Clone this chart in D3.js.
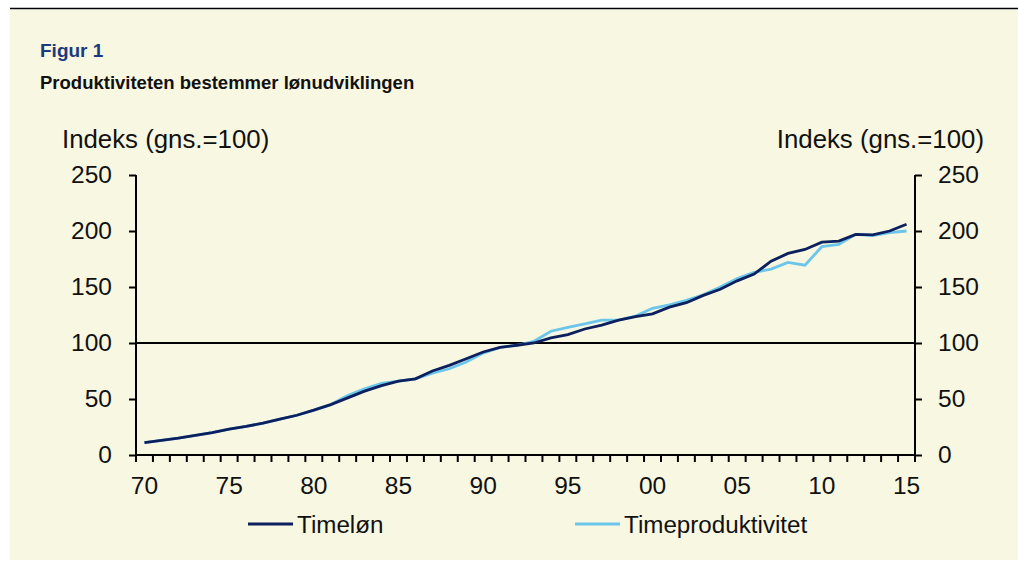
<!DOCTYPE html>
<html>
<head>
<meta charset="utf-8">
<script src="https://cdn.jsdelivr.net/npm/d3@7"></script>
<style>
  body { margin: 0; background: #fff; }
  svg { display: block; font-family: "Liberation Sans", Arial, sans-serif; }
</style>
</head>
<body>
<svg id="chart" width="1018" height="569"></svg>
<script>
// years 1970-2015
const years = d3.range(1970, 2016);
const tickLabels = ["70", "75", "80", "85", "90", "95", "00", "05", "10", "15"];
const yTicks = [0, 50, 100, 150, 200, 250];

const timeloen = [
  11, 13, 15, 17.5, 20, 23, 25.5, 28.5, 32, 35.5,
  40, 45, 51, 57, 62, 66, 68, 75, 80, 86,
  92, 96, 98, 100, 104.5, 107.5, 112.5, 116, 120.5, 123.5,
  126, 132, 136, 142.5, 148, 155.5, 161.5, 173, 180, 183.5,
  190, 191, 197, 196.5, 200, 206
];
const timeprod = [
  11, 13, 15, 17.5, 20, 23, 25.5, 28.5, 32, 35.5,
  40, 45, 53, 59, 64, 66, 68, 73, 77, 83,
  91, 96, 98, 101.5, 110.5, 114, 117, 120.5, 120.5, 124,
  131, 134, 138, 143, 150, 157.5, 163, 166, 172, 169.5,
  186, 188, 197, 196, 198.5, 200
];

const svg = d3.select('#chart');

// top rule and background panel
svg.append('rect').attr('x', 10).attr('y', 10).attr('width', 1008).attr('height', 550).attr('fill', '#f8f7e1');
svg.append('line').attr('x1', 10).attr('x2', 1018).attr('y1', 8.5).attr('y2', 8.5).attr('stroke', '#000').attr('stroke-width', 1.5);

svg.append('text').attr('x', 40).attr('y', 57).text('Figur 1')
  .attr('font-size', 19).attr('font-weight', 'bold').attr('fill', '#1b3a7c');
svg.append('text').attr('x', 40).attr('y', 89).text('Produktiviteten bestemmer lønudviklingen')
  .attr('font-size', 18.5).attr('font-weight', 'bold').attr('fill', '#111');

const pLeft = 136, pRight = 915, pTop = 175, pBottom = 455;

const x = d3.scaleBand().domain(years).range([pLeft, pRight]);
const y = d3.scaleLinear().domain([0, 250]).range([pBottom, pTop]);

const fs = 24.5;

// y axes
const yl = svg.append('g').attr('transform', `translate(${pLeft},0)`)
  .call(d3.axisLeft(y).tickValues(yTicks).tickSize(7).tickPadding(17));
const yr = svg.append('g').attr('transform', `translate(${pRight},0)`)
  .call(d3.axisRight(y).tickValues(yTicks).tickSize(7).tickPadding(16));

// x axis, ticks at category boundaries
const xg = svg.append('g').attr('transform', `translate(0,${pBottom})`)
  .call(d3.axisBottom(x).tickValues(years.filter(d => d % 5 === 0))
    .tickFormat((d, i) => tickLabels[i]).tickSize(0).tickPadding(22));
xg.selectAll('.xtick').data(years.concat([2016])).enter().append('line')
  .attr('x1', d => d === 2016 ? pRight : x(d)).attr('x2', d => d === 2016 ? pRight : x(d))
  .attr('y1', 0).attr('y2', 7).attr('stroke', '#000').attr('stroke-width', 2);

[yl, yr, xg].forEach(g => {
  g.select('.domain').attr('stroke', '#000').attr('stroke-width', 2);
  g.selectAll('.tick line').attr('stroke', '#000').attr('stroke-width', 2);
  g.selectAll('.tick text').attr('font-size', fs).attr('fill', '#111').attr('font-family', '"Liberation Sans", Arial, sans-serif');
});
yl.select('.domain').attr('d', `M-0,${pTop}V${pBottom}`);
yr.select('.domain').attr('d', `M0,${pTop}V${pBottom}`);
xg.select('.domain').attr('d', `M${pLeft},0H${pRight}`);

// reference line at 100
svg.append('line').attr('x1', pLeft).attr('x2', pRight).attr('y1', y(100)).attr('y2', y(100))
  .attr('stroke', '#000').attr('stroke-width', 2);

const line = d3.line().x((d, i) => x(years[i]) + x.bandwidth() / 2).y(d => y(d));

svg.append('path').datum(timeprod).attr('d', line).attr('fill', 'none')
  .attr('stroke', '#6cc5ea').attr('stroke-width', 2.8);
svg.append('path').datum(timeloen).attr('d', line).attr('fill', 'none')
  .attr('stroke', '#0c1f5e').attr('stroke-width', 2.8);

// axis titles
svg.append('text').attr('x', 62).attr('y', 148).text('Indeks (gns.=100)').attr('font-size', 25.8).attr('fill', '#111');
svg.append('text').attr('x', 984).attr('y', 148).attr('text-anchor', 'end').text('Indeks (gns.=100)').attr('font-size', 25.8).attr('fill', '#111');

// legend
const legend = [
  { name: 'Timeløn', color: '#0c1f5e', x: 248 },
  { name: 'Timeproduktivitet', color: '#6cc5ea', x: 575 }
];
const lg = svg.selectAll('.leg').data(legend).enter().append('g');
lg.append('line').attr('x1', d => d.x).attr('x2', d => d.x + 45).attr('y1', 524).attr('y2', 524)
  .attr('stroke', d => d.color).attr('stroke-width', 2.8);
lg.append('text').attr('x', d => d.x + 49).attr('y', 533).text(d => d.name).attr('font-size', 24.2).attr('fill', '#111');
</script>
</body>
</html>
